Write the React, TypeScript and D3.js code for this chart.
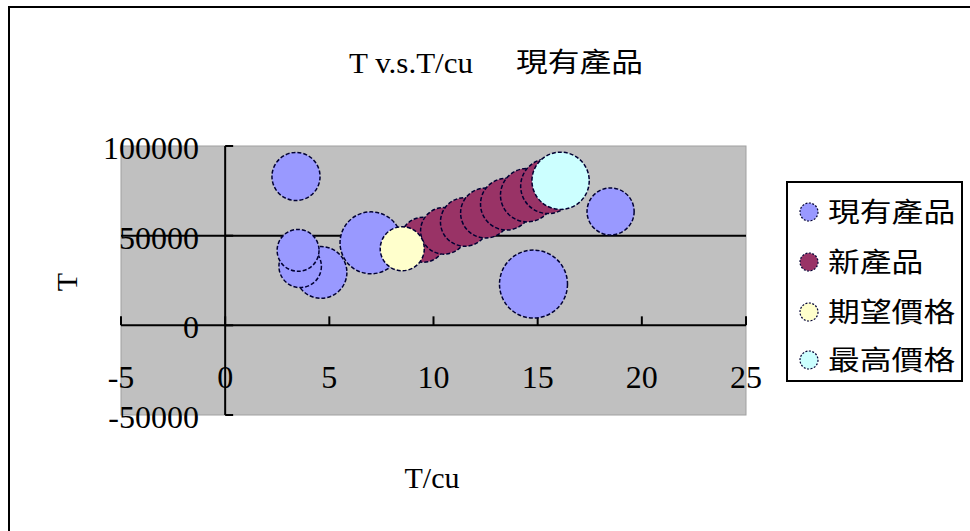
import React from "react";
import * as d3 from "d3";

// Series names and fills
const seriesNames = ["現有產品", "新產品", "期望價格", "最高價格"];
const seriesColors = ["#9999ff", "#993366", "#ffffcc", "#ccffff"];

// 現有產品 (existing products): T/cu, T, bubble size
const currentX = [3.4, 4.6, 3.6, 3.5, 7.0, 14.8, 18.5];
const currentY = [83000, 29500, 32900, 41800, 46000, 23000, 63500];
const currentSize = [50, 58, 39, 38, 83, 100, 48];

// 新產品 (new product)
const newX = [9.5, 10.5, 11.5, 12.5, 13.5, 14.5, 15.5];
const newY = [47700, 52700, 57650, 62650, 67600, 72600, 77600];
const newSize = [44, 47, 51, 54, 58, 62, 65];

// 期望價格 (expected price)
const expectX = [8.5];
const expectY = [42700];
const expectSize = [42];

// 最高價格 (highest price)
const maxX = [16.1];
const maxY = [80600];
const maxSize = [71];

const xTicks = [-5, 0, 5, 10, 15, 20, 25];
const yTicks = [-50000, 0, 50000, 100000];

const W = 970;
const H = 531;

const serif = "'Liberation Serif', 'DejaVu Serif', serif";
const cjk = "'Noto Sans CJK TC', 'Noto Sans CJK SC', sans-serif";

export default function App() {
  const x = d3.scaleLinear().domain([-5, 25]).range([121, 746]);
  const y = d3.scaleLinear().domain([-50000, 100000]).range([415, 146]);
  const r = d3.scaleSqrt().domain([0, 100]).range([0, 34]);

  const series = [
    { xs: currentX, ys: currentY, ss: currentSize },
    { xs: newX, ys: newY, ss: newSize },
    { xs: expectX, ys: expectY, ss: expectSize },
    { xs: maxX, ys: maxY, ss: maxSize },
  ];

  const [x0, x1] = x.range();
  const [yb, yt] = y.range();

  const bubbleStroke = {
    stroke: "#000033",
    strokeWidth: 1.5,
    strokeDasharray: "4 2",
  };

  return (
    <div style={{ position: "absolute", left: 0, top: 0 }}>
      <svg width={W} height={H} style={{ display: "block", background: "#fff" }}>
        {/* outer chart frame (left and top edges fall inside the view) */}
        <line x1={9} x2={9} y1={7} y2={H} stroke="#000" strokeWidth={2} />
        <line x1={8} x2={W} y1={7} y2={7} stroke="#000" strokeWidth={2} />

        {/* title */}
        <text x={349} y={73} fontFamily={serif} fontSize={30} textLength={124} lengthAdjust="spacingAndGlyphs">
          T v.s.T/cu
        </text>
        <text x={516} y={72} fontFamily={cjk} fontSize={27} textLength={127} lengthAdjust="spacingAndGlyphs">
          現有產品
        </text>

        {/* plot area */}
        <rect x={x0} y={yt} width={x1 - x0} height={yb - yt} fill="#c0c0c0" stroke="#a0a0a0" strokeWidth={1} />

        {/* gridline at 50000 */}
        <line x1={x0} x2={x1} y1={y(50000)} y2={y(50000)} stroke="#000" strokeWidth={2} />

        {/* x axis crossing at 0 */}
        <line x1={x0} x2={x1} y1={y(0)} y2={y(0)} stroke="#000" strokeWidth={2} />
        {xTicks.map((t) => (
          <line key={"xt" + t} x1={x(t)} x2={x(t)} y1={y(0) - 9} y2={y(0)} stroke="#000" strokeWidth={2} />
        ))}

        {/* y axis crossing at 0 */}
        <line x1={x(0)} x2={x(0)} y1={yt} y2={yb} stroke="#000" strokeWidth={2} />
        {yTicks.map((t) => (
          <line key={"yt" + t} x1={x(0)} x2={x(0) + 8} y1={y(t)} y2={y(t)} stroke="#000" strokeWidth={2} />
        ))}

        {/* bubbles */}
        {series.map((s, si) =>
          s.xs.map((xv, i) => (
            <circle
              key={si + "-" + i}
              cx={x(xv)}
              cy={y(s.ys[i])}
              r={r(s.ss[i])}
              fill={seriesColors[si]}
              {...bubbleStroke}
            />
          ))
        )}

        {/* y tick labels */}
        {yTicks.map((t) => (
          <text
            key={"yl" + t}
            x={199}
            y={y(t) + 2}
            textAnchor="end"
            dominantBaseline="central"
            fontFamily={serif}
            fontSize={32}
          >
            {t}
          </text>
        ))}

        {/* x tick labels */}
        {xTicks.map((t) => (
          <text
            key={"xl" + t}
            x={x(t)}
            y={377}
            textAnchor="middle"
            dominantBaseline="central"
            fontFamily={serif}
            fontSize={32}
          >
            {t}
          </text>
        ))}

        {/* axis titles */}
        <text x={432} y={488} textAnchor="middle" fontFamily={serif} fontSize={30}>
          T/cu
        </text>
        <text
          transform={`translate(77,282) rotate(-90)`}
          textAnchor="middle"
          fontFamily={serif}
          fontSize={30}
        >
          T
        </text>

        {/* legend */}
        <rect x={787} y={182} width={175} height={199} fill="#fff" stroke="#000" strokeWidth={2} />
        {seriesNames.map((name, i) => {
          const cy = [212, 262, 312, 360][i];
          return (
            <g key={name}>
              <circle cx={809} cy={cy} r={9} fill={seriesColors[i]} {...bubbleStroke} strokeWidth={1.2} strokeDasharray="2 1.5" />
              <text
                x={828}
                y={cy + 10}
                fontFamily={cjk}
                fontSize={27}
                textLength={name.length * 31.8}
                lengthAdjust="spacingAndGlyphs"
              >
                {name}
              </text>
            </g>
          );
        })}
      </svg>
    </div>
  );
}
